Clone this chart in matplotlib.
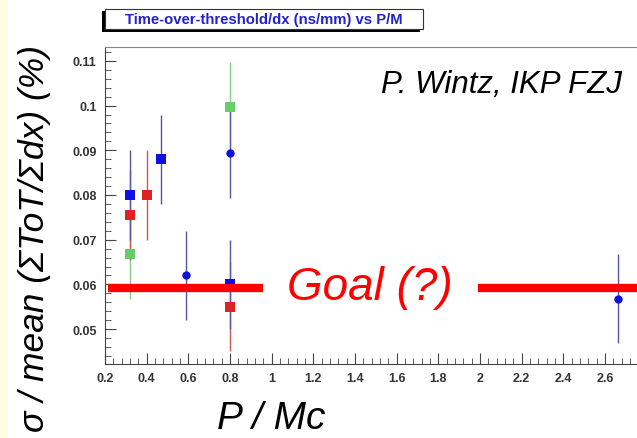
import matplotlib
matplotlib.use('Agg')
import matplotlib.pyplot as plt
from matplotlib.patches import Rectangle
from matplotlib.ticker import MultipleLocator, FuncFormatter

plt.rcParams['font.family'] = ['Liberation Sans', 'DejaVu Sans']

# data (sigma/mean vs P/Mc), all errors ~0.01
blue_sq_x = [0.32, 0.47, 0.80]
blue_sq_y = [0.080, 0.088, 0.060]
blue_circ_x = [0.59, 0.80, 2.665]
blue_circ_y = [0.062, 0.0893, 0.0568]
red_sq_x = [0.32, 0.40, 0.80]
red_sq_y = [0.0755, 0.080, 0.055]
green_sq_x = [0.32, 0.80]
green_sq_y = [0.0667, 0.0997]
err = 0.01

goal_y = 0.0591
goal_left = [0.214, 0.958]
goal_right = [1.99, 2.80]

fig = plt.figure(figsize=(6.37, 4.39), dpi=100)
fig.patches.append(Rectangle((0, 0), 8 / 637, 1, transform=fig.transFigure,
                             facecolor='#fffbe0', edgecolor='none'))

ax = fig.add_axes([105 / 637, 74 / 439, 532 / 637, 317 / 439])
ax.set_xlim(0.2, 2.754)
ax.set_ylim(0.0422, 0.1131)


def series(x, y, mcol, ecol, marker, ms):
    ax.errorbar(x, y, yerr=[err] * len(y), fmt=marker, color=mcol, ecolor=ecol,
                elinewidth=1.0, capsize=2, capthick=1.0, markersize=ms,
                markeredgewidth=0, zorder=3)


series(green_sq_x, green_sq_y, '#66cc66', '#88c888', 's', 6.5)
series(red_sq_x, red_sq_y, '#dd2222', '#d05555', 's', 6.5)
series(blue_sq_x, blue_sq_y, '#1010e0', '#5555aa', 's', 6.5)
series(blue_circ_x, blue_circ_y, '#1010e0', '#5555aa', 'o', 6)

ax.plot(goal_left, [goal_y, goal_y], color='#ff0000', lw=6, solid_capstyle='butt', zorder=4)
ax.plot(goal_right, [goal_y, goal_y], color='#ff0000', lw=6, solid_capstyle='butt', zorder=4)
ax.text(1.47, goal_y + 0.0004, 'Goal (?)', color='#ff0000', fontsize=33, style='italic',
        ha='center', va='center', zorder=5)
ax.text(2.682, 0.1049, 'P. Wintz, IKP FZJ', fontsize=22.5, style='italic',
        ha='right', va='center')

ax.xaxis.set_major_locator(MultipleLocator(0.2))
ax.xaxis.set_minor_locator(MultipleLocator(0.04))
ax.yaxis.set_major_locator(MultipleLocator(0.01))
ax.yaxis.set_minor_locator(MultipleLocator(0.002))
ax.xaxis.set_major_formatter(FuncFormatter(lambda v, p: ('%g' % round(v, 2))))
ax.yaxis.set_major_formatter(FuncFormatter(lambda v, p: ('%g' % round(v, 3))))
ax.tick_params(which='both', direction='in', top=False, right=False, color='#444444')
ax.tick_params(which='major', length=8, width=0.8, labelsize=9, labelcolor='#333333', pad=6)
ax.tick_params(which='minor', length=4, width=0.6)
for lab in ax.get_xticklabels() + ax.get_yticklabels():
    lab.set_fontweight('bold')
ax.spines['right'].set_visible(False)
ax.spines['top'].set_color('#888888')
ax.spines['left'].set_color('#444444')
ax.spines['bottom'].set_color('#444444')

fig.text(271 / 637, 1 - 419 / 439, 'P / Mc', fontsize=28, style='italic', ha='center', va='center')
fig.text(35 / 637, 1 - 238 / 439, 'σ / mean (ΣToT/Σdx) (%)', fontsize=25.5, style='italic',
         rotation=90, ha='center', va='center')

# title box with shadow
fig.patches.append(Rectangle((102 / 637, 1 - 33 / 439), 318 / 637, 21 / 439,
                             transform=fig.transFigure, facecolor='black', edgecolor='none'))
fig.patches.append(Rectangle((105 / 637, 1 - 30 / 439), 318 / 637, 20 / 439,
                             transform=fig.transFigure, facecolor='white',
                             edgecolor='#333333', linewidth=0.8))
fig.text(264 / 637, 1 - 20 / 439, 'Time-over-threshold/dx (ns/mm) vs P/M', fontsize=10.7,
         fontweight='bold', color='#2222cc', ha='center', va='center')

fig.savefig('out.png', dpi=100)
